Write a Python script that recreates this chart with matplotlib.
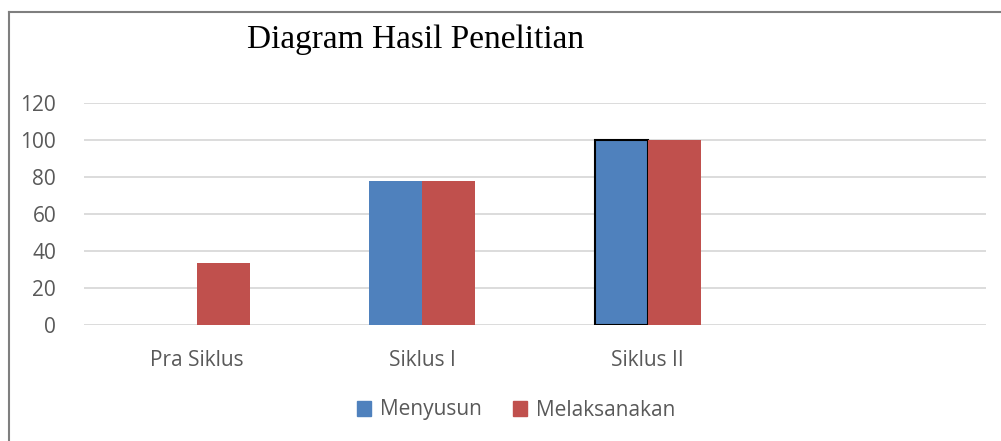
import numpy as np
import matplotlib.pyplot as plt
from matplotlib.lines import Line2D

categories = ["Pra Siklus", "Siklus I", "Siklus II", ""]
menyusun = [0, 77.8, 100, np.nan]
melaksanakan = [33.3, 77.8, 100, np.nan]
yticks = [0, 20, 40, 60, 80, 100, 120]

blue = "#4F81BD"
red = "#C0504D"
grid_col = "#D9D9D9"
text_col = "#595959"

fig = plt.figure(figsize=(10.01, 4.41), dpi=100)
ax = fig.add_axes([84 / 1001, 116 / 441, 902 / 1001, 222 / 441])

x = np.arange(len(categories))
w = 0.235
edges_blue = ["none", "none", "black", "none"]
lw_blue = [0, 0, 1.5, 0]
ax.bar(x - w / 2, menyusun, w, color=blue, edgecolor=edges_blue, linewidth=lw_blue, label="Menyusun", zorder=3)
ax.bar(x + w / 2, melaksanakan, w, color=red, linewidth=0, label="Melaksanakan", zorder=3)

ax.set_xlim(-0.5, len(categories) - 0.5)
ax.set_ylim(0, 120)
ax.set_yticks(yticks)
ax.yaxis.grid(True, color=grid_col, linewidth=1.3, zorder=0)
ax.set_axisbelow(True)
for s in ax.spines.values():
    s.set_visible(False)
ax.tick_params(axis="both", length=0, colors=text_col, labelsize=15)
ax.tick_params(axis="y", pad=20)
ax.tick_params(axis="x", pad=18)
ax.set_xticks(x)
ax.set_xticklabels(categories)
for lab in ax.get_xticklabels() + ax.get_yticklabels():
    lab.set_fontfamily("Open Sans")
    lab.set_color(text_col)
ax.get_xticklabels()[0].set_x(-0.03)

fig.text(416 / 1001, 1 - 40 / 441, "Diagram Hasil Penelitian", ha="center", va="center",
         fontsize=24, family="Liberation Serif", color="black")

handles = [plt.Rectangle((0, 0), 1, 1, color=blue), plt.Rectangle((0, 0), 1, 1, color=red)]
fig.legend(handles, ["Menyusun", "Melaksanakan"], loc="center", bbox_to_anchor=(516 / 1001, 1 - 410 / 441),
           ncol=2, frameon=False, handlelength=0.7, handleheight=0.7, handletextpad=0.4, columnspacing=1.5,
           prop={"family": "Open Sans", "size": 15}, labelcolor=text_col)

# chart border (top and left visible)
fig.add_artist(Line2D([8.5 / 1001, 1], [1 - 11.5 / 441, 1 - 11.5 / 441], color="#7F7F7F", linewidth=1.5))
fig.add_artist(Line2D([8.5 / 1001, 8.5 / 1001], [0, 1 - 11.5 / 441], color="#7F7F7F", linewidth=1.5))

fig.savefig("out.png", dpi=100)
